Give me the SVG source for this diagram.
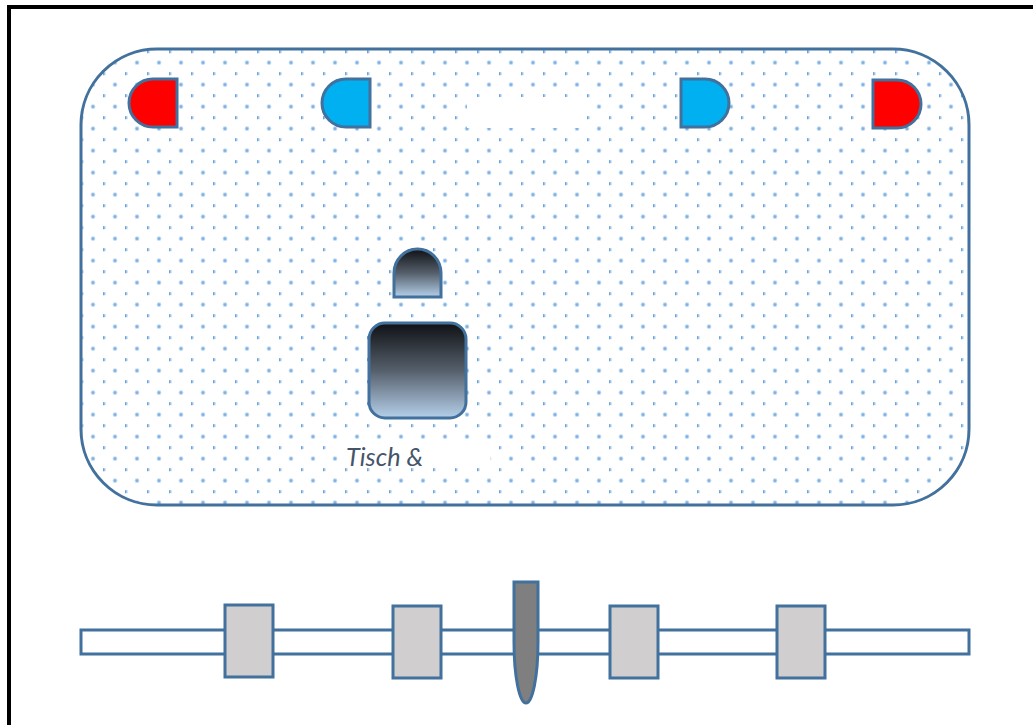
<svg xmlns="http://www.w3.org/2000/svg" width="1033" height="725" viewBox="0 0 1033 725">
<style>
.s{stroke:#41719c;stroke-width:3}
.g{fill:#d0cece}
.r{fill:#ff0000}
.b{fill:#00b0f0}
</style>
<defs>
<pattern id="dots" patternUnits="userSpaceOnUse" x="0" y="0" width="22" height="22">
<circle cx="5" cy="18.7" r="2.4" fill="#c5dcf2"/>
<circle cx="5" cy="18.7" r="1.4" fill="#7fb2e3"/>
<rect x="15" y="6.2" width="2.6" height="3" fill="#b5d3f0"/>
<rect x="15" y="6.2" width="1.3" height="3" fill="#6ba3db"/>
</pattern>
<linearGradient id="grad" x1="0" y1="0" x2="0" y2="1">
<stop offset="0" stop-color="#0f1114"/>
<stop offset=".5" stop-color="#555f6b"/>
<stop offset="1" stop-color="#b5d0ea"/>
</linearGradient>
</defs>
<rect width="1033" height="725" fill="#fff"/>
<rect id="frame" x="9" y="7" width="1040" height="740" fill="#fff" stroke="#000" stroke-width="4"/>
<g id="room">
<rect x="81" y="49" width="888" height="456" rx="76" ry="76" fill="#fff"/>
<rect class="s" x="81" y="49" width="888" height="456" rx="76" ry="76" fill="url(#dots)"/>
<rect x="467" y="97" width="120" height="31" fill="#fff"/>
<rect x="342" y="441" width="148.500" height="26" fill="#fff"/>
</g>
<g id="lamp-red-left"><path class="s r" d="M177 79V127H153A24 24 0 0 1 153 79Z"/></g>
<g id="lamp-blue-left"><path class="s b" d="M370 79V127H346A24 24 0 0 1 346 79Z"/></g>
<g id="lamp-blue-right"><path class="s b" d="M681 79V127H705A24 24 0 0 0 705 79Z"/></g>
<g id="lamp-red-right"><path class="s r" d="M873 80V128H897A24 24 0 0 0 897 80Z"/></g>
<g id="small-shape"><path class="s" fill="url(#grad)" d="M394 297V273A23.5 24 0 0 1 441 273V297Z"/></g>
<g id="table"><rect class="s" x="369" y="323" width="97" height="95" rx="16" ry="16" fill="url(#grad)"/></g>
<text id="label" x="346" y="465.500" textLength="77" lengthAdjust="spacingAndGlyphs" font-family="Lato,'Open Sans',sans-serif" font-style="italic" font-size="26" fill="#44546a">Tisch &amp;</text>
<g id="rail"><rect class="s" x="81" y="630" width="888" height="24" fill="#fff"/></g>
<g id="block-1"><rect class="s g" x="225" y="605" width="48" height="72"/></g>
<g id="block-2"><rect class="s g" x="393" y="606" width="48" height="72"/></g>
<g id="needle"><path class="s" fill="#7f7f7f" d="M514 582H538V642A12 61 0 0 1 514 642Z"/></g>
<g id="block-3"><rect class="s g" x="610" y="606" width="48" height="72"/></g>
<g id="block-4"><rect class="s g" x="777" y="606" width="48" height="72"/></g>
<g id="connectors"></g>
</svg>
